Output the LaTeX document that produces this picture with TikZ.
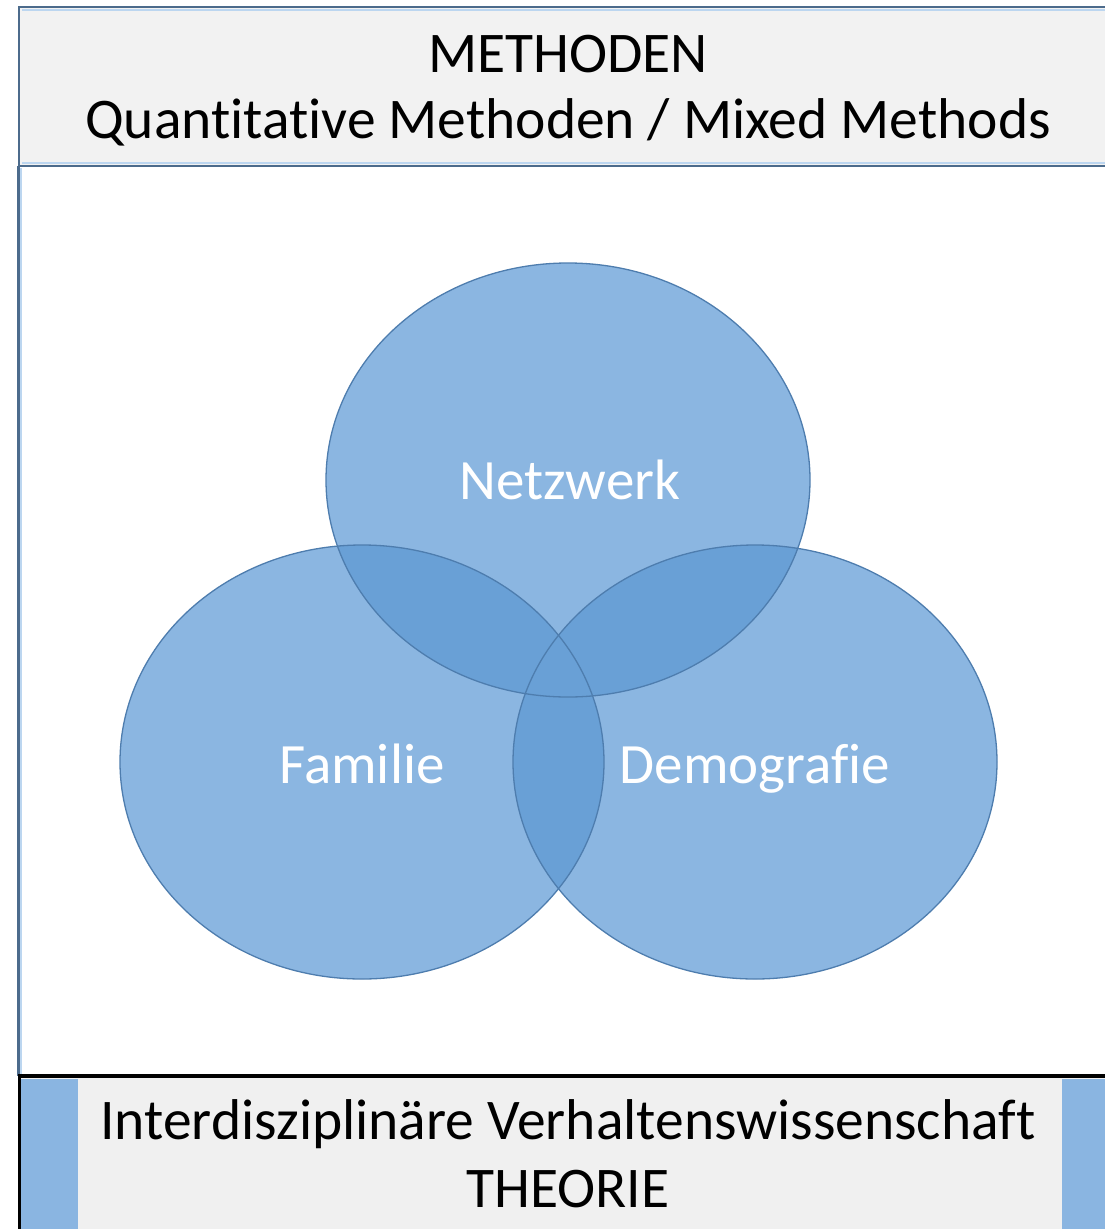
\documentclass[tikz,border=0pt]{standalone}
\usepackage{fontspec}
\setmainfont[Ligatures={NoCommon}]{Carlito}
\definecolor{circfill}{HTML}{8BB6E1}
\definecolor{overfill}{HTML}{69A0D6}
\definecolor{circedge}{HTML}{4E7DAE}
\definecolor{boxgray}{HTML}{F2F2F2}
\definecolor{bandgray}{HTML}{F0F0F0}
\definecolor{boxedge}{HTML}{4C6B8C}
\definecolor{lightline}{HTML}{BCD6F0}
\definecolor{bandblue}{HTML}{8AB5E1}
\begin{document}
\begin{tikzpicture}[x=1pt,y=-1pt,
  bigtext/.style={font=\fontsize{57.5}{60}\selectfont, text=black, inner sep=0pt, anchor=base},
  circtext/.style={font=\fontsize{57}{60}\selectfont, text=white, inner sep=0pt, anchor=base},
  circshape/.style={fill=circfill}]
\useasboundingbox (0,0) rectangle (1105,1229);
\fill[white] (0,0) rectangle (1105,1229);
% top box
\fill[boxgray] (19,7) rectangle (1110,166);
\draw[lightline, line width=1.5pt] (22,10) -- (1110,10);
\draw[lightline, line width=1.5pt] (22,163) -- (1110,163);
\draw[boxedge, line width=2.5pt] (1110,7) -- (19,7) -- (19,166) -- (1110,166);
% left vertical line
\draw[boxedge, line width=2.5pt] (18.5,166) -- (18.5,1076);
\draw[lightline, line width=2pt] (21,168) -- (21,1074);
% bottom band
\fill[bandgray] (20,1077) rectangle (1105,1229);
\fill[bandblue] (21,1079) rectangle (78,1229);
\fill[bandblue] (1062,1079) rectangle (1105,1229);
\draw[black, line width=3.5pt] (19.5,1229) -- (19.5,1076) -- (1105,1076);
% circles
\path[circshape] (568,480) ellipse [x radius=242, y radius=217];
\path[circshape] (362,762) ellipse [x radius=242, y radius=217];
\path[circshape] (755,762) ellipse [x radius=242, y radius=217];
\begin{scope}
  \clip (568,480) ellipse [x radius=242, y radius=217];
  \fill[overfill] (362,762) ellipse [x radius=242, y radius=217];
  \fill[overfill] (755,762) ellipse [x radius=242, y radius=217];
\end{scope}
\begin{scope}
  \clip (362,762) ellipse [x radius=242, y radius=217];
  \fill[overfill] (755,762) ellipse [x radius=242, y radius=217];
\end{scope}
\draw[circedge, line width=1.3pt] (568,480) ellipse [x radius=242, y radius=217];
\draw[circedge, line width=1.3pt] (362,762) ellipse [x radius=242, y radius=217];
\draw[circedge, line width=1.3pt] (755,762) ellipse [x radius=242, y radius=217];
% texts
\node[bigtext] (methoden) at (568,72) {METHODEN};
\node[bigtext] (quant) at (568,138) {Quantitative Methoden / Mixed Methods};
\node[circtext] (netz) at (570,499) {Netzwerk};
\node[circtext] (fam) at (362,783) {Familie};
\node[circtext] (demo) at (755,783) {Demografie};
\node[bigtext] (inter) at (568,1139) {Interdisziplinäre Verhaltenswissenschaft};
\node[bigtext] (theorie) at (568,1207) {THEORIE};
\end{tikzpicture}
\end{document}
